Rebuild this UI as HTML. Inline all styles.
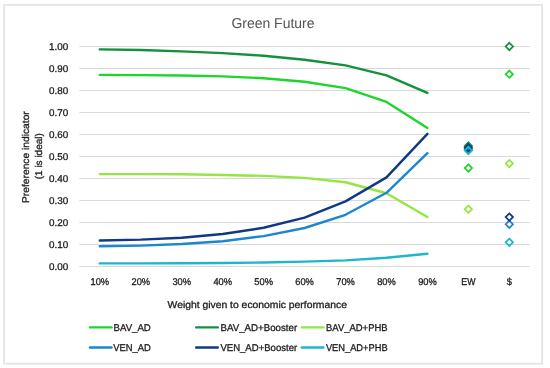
<!DOCTYPE html><html><head><meta charset="utf-8"><title>Green Future</title><style>html,body{margin:0;padding:0;background:#fff}svg{display:block}text{font-family:"Liberation Sans",sans-serif;fill:#1c1c1c;stroke:#1c1c1c;stroke-width:0.3px;paint-order:stroke;text-rendering:geometricPrecision}</style></head><body>
<svg width="550" height="368" viewBox="0 0 550 368">
<rect x="0" y="0" width="550" height="368" fill="#fff"/>
<rect x="4.1" y="4.9" width="538" height="358.8" fill="none" stroke="#e3e3e3" stroke-width="1.7"/>
<line x1="79.35" x2="529.8" y1="266.50" y2="266.50" stroke="#d9d9d9" stroke-width="1"/>
<text x="49.0" y="270.00" font-size="9.8" text-anchor="start" textLength="19.2" lengthAdjust="spacingAndGlyphs">0.00</text>
<line x1="79.35" x2="529.8" y1="244.50" y2="244.50" stroke="#d9d9d9" stroke-width="1"/>
<text x="49.0" y="248.00" font-size="9.8" text-anchor="start" textLength="19.2" lengthAdjust="spacingAndGlyphs">0.10</text>
<line x1="79.35" x2="529.8" y1="222.50" y2="222.50" stroke="#d9d9d9" stroke-width="1"/>
<text x="49.0" y="226.00" font-size="9.8" text-anchor="start" textLength="19.2" lengthAdjust="spacingAndGlyphs">0.20</text>
<line x1="79.35" x2="529.8" y1="200.50" y2="200.50" stroke="#d9d9d9" stroke-width="1"/>
<text x="49.0" y="204.00" font-size="9.8" text-anchor="start" textLength="19.2" lengthAdjust="spacingAndGlyphs">0.30</text>
<line x1="79.35" x2="529.8" y1="178.50" y2="178.50" stroke="#d9d9d9" stroke-width="1"/>
<text x="49.0" y="182.00" font-size="9.8" text-anchor="start" textLength="19.2" lengthAdjust="spacingAndGlyphs">0.40</text>
<line x1="79.35" x2="529.8" y1="156.50" y2="156.50" stroke="#d9d9d9" stroke-width="1"/>
<text x="49.0" y="160.00" font-size="9.8" text-anchor="start" textLength="19.2" lengthAdjust="spacingAndGlyphs">0.50</text>
<line x1="79.35" x2="529.8" y1="134.50" y2="134.50" stroke="#d9d9d9" stroke-width="1"/>
<text x="49.0" y="138.00" font-size="9.8" text-anchor="start" textLength="19.2" lengthAdjust="spacingAndGlyphs">0.60</text>
<line x1="79.35" x2="529.8" y1="112.50" y2="112.50" stroke="#d9d9d9" stroke-width="1"/>
<text x="49.0" y="116.00" font-size="9.8" text-anchor="start" textLength="19.2" lengthAdjust="spacingAndGlyphs">0.70</text>
<line x1="79.35" x2="529.8" y1="90.50" y2="90.50" stroke="#d9d9d9" stroke-width="1"/>
<text x="49.0" y="94.00" font-size="9.8" text-anchor="start" textLength="19.2" lengthAdjust="spacingAndGlyphs">0.80</text>
<line x1="79.35" x2="529.8" y1="68.50" y2="68.50" stroke="#d9d9d9" stroke-width="1"/>
<text x="49.0" y="72.00" font-size="9.8" text-anchor="start" textLength="19.2" lengthAdjust="spacingAndGlyphs">0.90</text>
<line x1="79.35" x2="529.8" y1="46.50" y2="46.50" stroke="#d9d9d9" stroke-width="1"/>
<text x="49.0" y="50.00" font-size="9.8" text-anchor="start" textLength="19.2" lengthAdjust="spacingAndGlyphs">1.00</text>
<text x="90.52" y="285" font-size="9.8" text-anchor="start" textLength="18.6" lengthAdjust="spacingAndGlyphs">10%</text>
<text x="131.47" y="285" font-size="9.8" text-anchor="start" textLength="18.6" lengthAdjust="spacingAndGlyphs">20%</text>
<text x="172.42" y="285" font-size="9.8" text-anchor="start" textLength="18.6" lengthAdjust="spacingAndGlyphs">30%</text>
<text x="213.38" y="285" font-size="9.8" text-anchor="start" textLength="18.6" lengthAdjust="spacingAndGlyphs">40%</text>
<text x="254.32" y="285" font-size="9.8" text-anchor="start" textLength="18.6" lengthAdjust="spacingAndGlyphs">50%</text>
<text x="295.28" y="285" font-size="9.8" text-anchor="start" textLength="18.6" lengthAdjust="spacingAndGlyphs">60%</text>
<text x="336.22" y="285" font-size="9.8" text-anchor="start" textLength="18.6" lengthAdjust="spacingAndGlyphs">70%</text>
<text x="377.18" y="285" font-size="9.8" text-anchor="start" textLength="18.6" lengthAdjust="spacingAndGlyphs">80%</text>
<text x="418.13" y="285" font-size="9.8" text-anchor="start" textLength="18.6" lengthAdjust="spacingAndGlyphs">90%</text>
<text x="461.32" y="285" font-size="9.8" text-anchor="start" textLength="14.1" lengthAdjust="spacingAndGlyphs">EW</text>
<text x="506.73" y="285" font-size="9.8" text-anchor="start" textLength="5.2" lengthAdjust="spacingAndGlyphs">$</text>
<text x="231.4" y="28.1" font-size="14.3" text-anchor="start" textLength="83.1" lengthAdjust="spacingAndGlyphs" style="fill:#525252;stroke:none">Green Future</text>
<text x="167.6" y="308" font-size="9.8" text-anchor="start" textLength="179.3" lengthAdjust="spacingAndGlyphs">Weight given to economic performance</text>
<text transform="translate(28.8,203.0) rotate(-90)" font-size="9.8" textLength="91.8" lengthAdjust="spacingAndGlyphs">Preference indicator</text>
<text transform="translate(42.0,179.3) rotate(-90)" font-size="9.8" textLength="46.2" lengthAdjust="spacingAndGlyphs">(1 is ideal)</text>
<polyline points="99.8,74.88 140.8,75.10 181.7,75.54 222.7,76.42 263.6,78.18 304.6,81.70 345.5,88.08 386.5,101.94 427.4,127.90" fill="none" stroke="#1fd52c" stroke-width="2.4" stroke-linecap="round" stroke-linejoin="round"/>
<polyline points="99.8,49.36 140.8,50.02 181.7,51.34 222.7,53.10 263.6,55.74 304.6,59.70 345.5,65.42 386.5,75.32 427.4,92.92" fill="none" stroke="#14913c" stroke-width="2.4" stroke-linecap="round" stroke-linejoin="round"/>
<polyline points="99.8,174.10 140.8,174.10 181.7,174.32 222.7,174.98 263.6,175.86 304.6,177.84 345.5,182.24 386.5,193.24 427.4,217.00" fill="none" stroke="#95e544" stroke-width="2.4" stroke-linecap="round" stroke-linejoin="round"/>
<polyline points="99.8,246.26 140.8,245.60 181.7,244.06 222.7,241.20 263.6,236.14 304.6,228.00 345.5,214.80 386.5,192.80 427.4,153.20" fill="none" stroke="#1c87d0" stroke-width="2.4" stroke-linecap="round" stroke-linejoin="round"/>
<polyline points="99.8,240.54 140.8,239.66 181.7,237.68 222.7,233.94 263.6,227.78 304.6,217.66 345.5,201.38 386.5,177.40 427.4,133.84" fill="none" stroke="#0f3a82" stroke-width="2.4" stroke-linecap="round" stroke-linejoin="round"/>
<polyline points="99.8,263.42 140.8,263.42 181.7,263.20 222.7,262.98 263.6,262.54 304.6,261.66 345.5,260.34 386.5,257.70 427.4,253.74" fill="none" stroke="#1fb6cb" stroke-width="2.4" stroke-linecap="round" stroke-linejoin="round"/>
<path d="M468.4 164.40L472.0 168.05L468.4 171.70L464.7 168.05Z" fill="none" stroke="#1fd52c" stroke-width="1.75"/>
<path d="M468.4 142.29L472.0 145.94L468.4 149.59L464.7 145.94Z" fill="none" stroke="#14913c" stroke-width="1.75"/>
<path d="M468.4 205.54L472.0 209.19L468.4 212.84L464.7 209.19Z" fill="none" stroke="#95e544" stroke-width="1.75"/>
<path d="M468.4 145.59L472.0 149.24L468.4 152.89L464.7 149.24Z" fill="none" stroke="#1c87d0" stroke-width="1.75"/>
<path d="M468.4 144.05L472.0 147.70L468.4 151.35L464.7 147.70Z" fill="none" stroke="#0f3a82" stroke-width="1.75"/>
<path d="M468.4 146.91L472.0 150.56L468.4 154.21L464.7 150.56Z" fill="none" stroke="#1fb6cb" stroke-width="1.75"/>
<path d="M509.3 70.57L513.0 74.22L509.3 77.87L505.7 74.22Z" fill="none" stroke="#1fd52c" stroke-width="1.75"/>
<path d="M509.3 42.85L513.0 46.50L509.3 50.15L505.7 46.50Z" fill="#fff" stroke="#14913c" stroke-width="1.75"/>
<path d="M509.3 159.89L513.0 163.54L509.3 167.19L505.7 163.54Z" fill="none" stroke="#95e544" stroke-width="1.75"/>
<path d="M509.3 220.61L513.0 224.26L509.3 227.91L505.7 224.26Z" fill="none" stroke="#1c87d0" stroke-width="1.75"/>
<path d="M509.3 213.46L513.0 217.11L509.3 220.76L505.7 217.11Z" fill="none" stroke="#0f3a82" stroke-width="1.75"/>
<path d="M509.3 238.65L513.0 242.30L509.3 245.95L505.7 242.30Z" fill="none" stroke="#1fb6cb" stroke-width="1.75"/>
<line x1="90.0" x2="111.6" y1="327.4" y2="327.4" stroke="#1fd52c" stroke-width="2.4" stroke-linecap="round"/>
<text x="113.5" y="331" font-size="9.8" text-anchor="start" textLength="37.3" lengthAdjust="spacingAndGlyphs">BAV_AD</text>
<line x1="196.2" x2="217.8" y1="327.4" y2="327.4" stroke="#14913c" stroke-width="2.4" stroke-linecap="round"/>
<text x="220.5" y="331" font-size="9.8" text-anchor="start" textLength="76.7" lengthAdjust="spacingAndGlyphs">BAV_AD+Booster</text>
<line x1="301.8" x2="323.4" y1="327.4" y2="327.4" stroke="#95e544" stroke-width="2.4" stroke-linecap="round"/>
<text x="326.0" y="331" font-size="9.8" text-anchor="start" textLength="61.6" lengthAdjust="spacingAndGlyphs">BAV_AD+PHB</text>
<line x1="90.0" x2="111.6" y1="347.5" y2="347.5" stroke="#1c87d0" stroke-width="2.4" stroke-linecap="round"/>
<text x="113.2" y="351" font-size="9.8" text-anchor="start" textLength="37.6" lengthAdjust="spacingAndGlyphs">VEN_AD</text>
<line x1="196.2" x2="217.8" y1="347.5" y2="347.5" stroke="#0f3a82" stroke-width="2.4" stroke-linecap="round"/>
<text x="220.4" y="351" font-size="9.8" text-anchor="start" textLength="76.8" lengthAdjust="spacingAndGlyphs">VEN_AD+Booster</text>
<line x1="301.8" x2="323.4" y1="347.5" y2="347.5" stroke="#1fb6cb" stroke-width="2.4" stroke-linecap="round"/>
<text x="325.9" y="351" font-size="9.8" text-anchor="start" textLength="61.7" lengthAdjust="spacingAndGlyphs">VEN_AD+PHB</text>
</svg></body></html>
